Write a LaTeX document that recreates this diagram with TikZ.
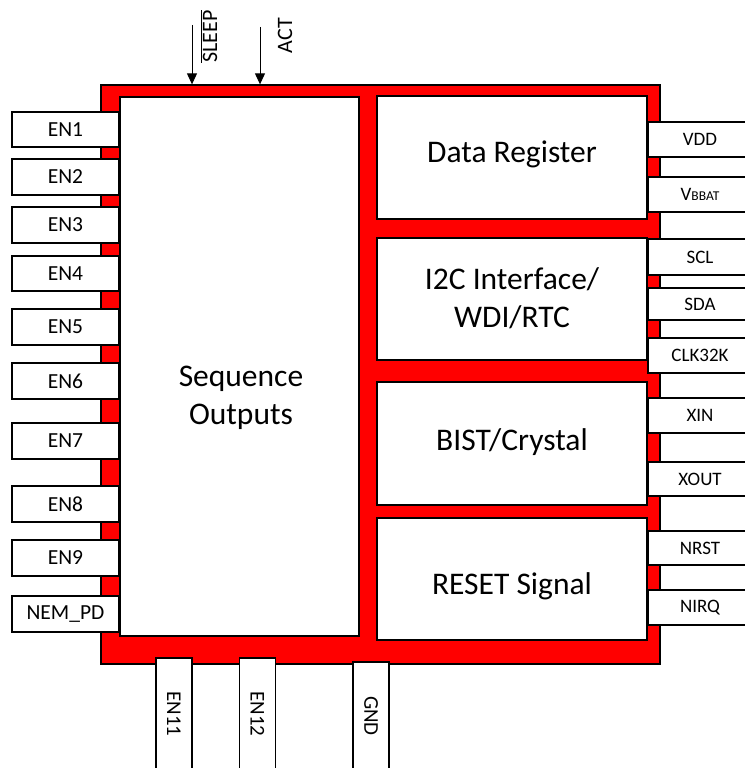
\documentclass[tikz,border=0pt]{standalone}
\usepackage{fontspec}
\setmainfont{Carlito}
\usetikzlibrary{arrows.meta}

\begin{document}
\begin{tikzpicture}[x=1pt,y=-1pt,line width=1.3pt,
  chipbox/.style={draw,fill=red,inner sep=0pt,minimum width=559,minimum height=579},
  blk/.style={draw,fill=white,inner sep=0pt},
  blktxt/.style={align=center,inner sep=0pt,font=\fontsize{31.5}{38}\selectfont},
  lpin/.style={draw,fill=white,inner sep=0pt,minimum width=107,font=\fontsize{21.5}{21.5}\selectfont},
  rpin/.style={draw,fill=white,inner sep=0pt,minimum width=104,font=\fontsize{19}{19}\selectfont},
  bpin/.style={draw,fill=white,inner sep=0pt,rotate=-90,minimum height=36,font=\fontsize{21}{21}\selectfont},
  sig/.style={line width=1pt,-{Triangle[width=10pt,length=11pt]}},
  siglbl/.style={rotate=90,inner sep=0pt,font=\fontsize{22}{22}\selectfont}]
\useasboundingbox (0,0) rectangle (744,768);
% chip body
\node[chipbox] (chip) at (380.5,374.5) {};
% inner blocks
\node[blk,minimum width=239,minimum height=539] (seq) at (239.5,366.5) {};
\node[blk,minimum width=270,minimum height=123] (data) at (512,157.5) {};
\node[blk,minimum width=270,minimum height=122] (i2c) at (512,299) {};
\node[blk,minimum width=270,minimum height=123] (bist) at (512,443.5) {};
\node[blk,minimum width=270,minimum height=122] (reset) at (512,579) {};
\node[blktxt] (seqtxt) at (241,398) {Sequence\\Outputs};
\node[blktxt] (datatxt) at (512,154) {Data Register};
\node[blktxt] (i2ctxt) at (512,298) {I2C Interface/\\WDI/RTC};
\node[blktxt] (bisttxt) at (512,442) {BIST/Crystal};
\node[blktxt] (resettxt) at (512,586) {RESET Signal};
% left pins
\foreach \nm/\tp/\bt/\txt in {en1/112/147/EN1,en2/159/195/EN2,en3/207/243/EN3,
  en4/256/291/EN4,en5/309/345/EN5,en6/363/399/EN6,en7/423/459/EN7,
  en8/486/522/EN8,en9/540/576/EN9,nempd/596/632/NEM\_PD}
  \node[lpin,minimum height=\bt-\tp] (\nm) at (65.5,{(\tp+\bt)/2}) {\txt};
% right pins
\foreach \nm/\tp/\bt/\txt in {vdd/122/157/VDD,
  vbbat/177/212/V{\fontsize{13.5}{13.5}\selectfont BBAT},
  scl/239/275/SCL,sda/288/320/SDA,clk/338/373/CLK32K,
  xin/398/433/XIN,xout/462/496/XOUT,nrst/531/565/NRST,nirq/590/625/NIRQ}
  \node[rpin,minimum height=\bt-\tp] (\nm) at (700,{(\tp+\bt)/2}) {\txt};
% bottom pins
\node[bpin,minimum width=112] (en11) at (174,714) {EN11};
\node[bpin,minimum width=112] (en12) at (257.5,714) {EN12};
\node[bpin,minimum width=108] (gnd) at (371,716) {GND};
% inputs on top
\coordinate (sleepin) at (192,25);
\coordinate (actin) at (260,27);
\draw[sig] (sleepin) -- (sleepin |- chip.north);
\draw[sig] (actin) -- (actin |- chip.north);
\node[siglbl] (sleeplbl) at (209,36.5) {$\overline{\mbox{SLEEP}}$};
\node[siglbl] (actlbl) at (285,35.5) {ACT};
\end{tikzpicture}
\end{document}
